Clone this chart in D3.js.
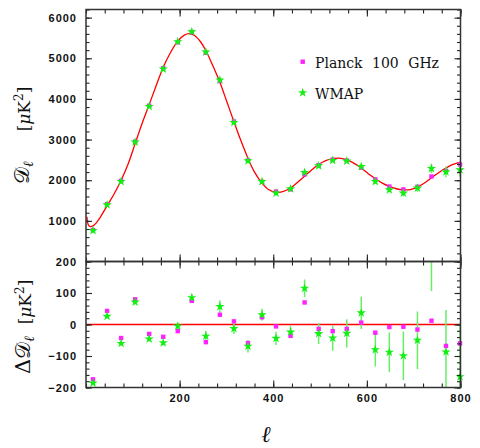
<!DOCTYPE html>
<html><head><meta charset="utf-8">
<script src="https://cdn.jsdelivr.net/npm/d3@7"></script>
<style>
body{margin:0;background:#fff;}
.tick text{font-family:"Liberation Sans",Arial,sans-serif;font-weight:bold;font-size:11px;letter-spacing:1px;fill:#111;}
</style></head>
<body><svg id="c" width="480" height="448"></svg>
<script>
// ---- data ----
const ell = [15,45,75,105,135,165,196,226,256,286,316,346,376,406,437,467,497,527,557,588,618,648,678,708,738,769,799];
const wmapD = [761,1394,1968,2938,3815,4736,5409,5655,5155,4466,3421,2478,1968,1682,1788,2190,2355,2485,2470,2337,1968,1764,1682,1805,2288,2207,2256];
const planckD = [773,1411,1985,2947,3831,4755,5393,5645,5136,4440,3444,2488,1960,1720,1776,2145,2370,2507,2484,2308,2020,1844,1774,1839,2091,2230,2387];
const wmapRes = [-186,26,-60,71,-46,-58,-5,85,-37,57,-13,-69,31,-44,-24,115,-29,-43,-28,37,-80,-88,-99,-50,220,-87,-166];
const wmapErr = [4,5,6,7,8,8,9,12,16,20,17,20,19,21,20,28,33,40,45,51,53,63,77,91,114,133,170];
const planckRes = [-174,43,-43,80,-30,-39,-21,75,-56,31,10,-59,23,-6,-36,70,-14,-21,-14,6,-26,-8,-7,-16,12,-68,-60];
const modelEll = [2,5,9,15,22,30,45,60,75,90,105,120,135,150,165,180,196,210,220,232,245,256,270,286,300,316,330,346,360,376,390,406,420,437,452,467,482,497,512,527,540,557,572,588,603,618,633,648,663,678,693,708,723,738,754,769,784,800];
const modelD = [1100,900,860,877,950,1080,1370,1660,2000,2400,2900,3400,3860,4330,4780,5130,5420,5570,5605,5560,5400,5190,4840,4410,3960,3440,3000,2540,2200,1930,1770,1700,1720,1810,1950,2100,2250,2385,2480,2530,2545,2500,2420,2300,2160,2040,1930,1850,1790,1765,1770,1830,1930,2060,2190,2300,2390,2445];
const xTicks = [200,400,600,800];
const topYTicks = [1000,2000,3000,4000,5000,6000];
const botYTicks = [-200,-100,0,100,200];
const legendLabels = ["Planck 100 GHz","WMAP"];

// ---- layout ----
const svg = d3.select("#c");
const L = 86, R = 460.5, T1 = 9.5, B1 = 261.5, B2 = 387.5;
const x = d3.scaleLinear().domain([0,800]).range([L,R]);
const y1 = d3.scaleLinear().domain([0,6200]).range([B1,T1]);
const y2 = d3.scaleLinear().domain([-200,200]).range([B2,B1]);
const magenta = "#ff22ff", green = "#11f011", errCol = "#66ee66";

const defs = svg.append("defs");
defs.append("clipPath").attr("id","cp1").append("rect").attr("x",L-10).attr("y",T1).attr("width",R-L+20).attr("height",B1-T1);
defs.append("clipPath").attr("id","cp2").append("rect").attr("x",L-10).attr("y",B1).attr("width",R-L+20).attr("height",B2-B1);

function axes(y, yMajor, yMinorStep, top, bottom, showX){
  const xMin = d3.range(0,801,40);
  const yMin = d3.range(y.domain()[0], y.domain()[1]+0.1, yMinorStep);
  const g = svg.append("g");
  g.append("g").attr("transform",`translate(0,${bottom})`).call(d3.axisBottom(x).tickValues(xMin).tickSize(-4).tickSizeOuter(0).tickFormat(""));
  g.append("g").attr("transform",`translate(0,${top})`).call(d3.axisTop(x).tickValues(xMin).tickSize(-4).tickSizeOuter(0).tickFormat(""));
  g.append("g").attr("transform",`translate(${L},0)`).call(d3.axisLeft(y).tickValues(yMin).tickSize(-3.5).tickSizeOuter(0).tickFormat(""));
  g.append("g").attr("transform",`translate(${R},0)`).call(d3.axisRight(y).tickValues(yMin).tickSize(-3.5).tickSizeOuter(0).tickFormat(""));
  const xb = d3.axisBottom(x).tickValues(xTicks).tickSize(-7).tickSizeOuter(0).tickPadding(7);
  if(!showX) xb.tickFormat("");
  g.append("g").attr("transform",`translate(0,${bottom})`).call(xb);
  g.append("g").attr("transform",`translate(0,${top})`).call(d3.axisTop(x).tickValues(xTicks).tickSize(-7).tickSizeOuter(0).tickFormat(""));
  g.append("g").attr("transform",`translate(${L},0)`).call(d3.axisLeft(y).tickValues(yMajor).tickSize(-6).tickSizeOuter(0).tickPadding(9).tickFormat(d=>d<0?"\u2212"+Math.abs(d):d));
  g.append("g").attr("transform",`translate(${R},0)`).call(d3.axisRight(y).tickValues(yMajor).tickSize(-6).tickSizeOuter(0).tickFormat(""));
  g.selectAll(".domain").remove();
  g.selectAll(".tick line").attr("stroke","#222").attr("stroke-width",1.1);
  g.append("rect").attr("x",L).attr("y",top).attr("width",R-L).attr("height",bottom-top)
    .attr("fill","none").attr("stroke","#333").attr("stroke-width",1.5);
}

// ---- top panel ----
const p1 = svg.append("g").attr("clip-path","url(#cp1)");
const line = d3.line().x((d,i)=>x(modelEll[i])).y(d=>y1(d)).curve(d3.curveCatmullRom.alpha(0.5));
p1.append("path").attr("d",line(modelD)).attr("fill","none").attr("stroke","#ff0000").attr("stroke-width",1.3);
p1.selectAll(".sq1").data(planckD).join("rect").attr("x",(d,i)=>x(ell[i])-2.2).attr("y",d=>y1(d)-2.2).attr("width",4.4).attr("height",4.4).attr("fill",magenta);
p1.selectAll(".eb1").data(wmapD).join("line").attr("x1",(d,i)=>x(ell[i])).attr("x2",(d,i)=>x(ell[i]))
  .attr("y1",(d,i)=>y1(d-wmapErr[i])).attr("y2",(d,i)=>y1(d+wmapErr[i])).attr("stroke",errCol).attr("stroke-width",1.5);
const star = d3.symbol().type(d3.symbolStar).size(27);
p1.selectAll(".st1").data(wmapD).join("path").attr("d",star).attr("transform",(d,i)=>`translate(${x(ell[i])},${y1(d)})`).attr("fill",green);

// ---- bottom panel ----
const p2 = svg.append("g").attr("clip-path","url(#cp2)");
p2.append("line").attr("x1",L).attr("x2",R).attr("y1",y2(0)).attr("y2",y2(0)).attr("stroke","#ff0000").attr("stroke-width",1.6);
p2.selectAll(".eb2").data(wmapRes).join("line").attr("x1",(d,i)=>x(ell[i])).attr("x2",(d,i)=>x(ell[i]))
  .attr("y1",(d,i)=>y2(d-wmapErr[i])).attr("y2",(d,i)=>y2(d+wmapErr[i])).attr("stroke",errCol).attr("stroke-width",1.5);
p2.selectAll(".sq2").data(planckRes).join("rect").attr("x",(d,i)=>x(ell[i])-2.2).attr("y",d=>y2(d)-2.2).attr("width",4.4).attr("height",4.4).attr("fill",magenta);
p2.selectAll(".st2").data(wmapRes).join("path").attr("d",star).attr("transform",(d,i)=>`translate(${x(ell[i])},${y2(d)})`).attr("fill",green);

axes(y1, topYTicks, 200, T1, B1, false);
axes(y2, botYTicks, 20, B1, B2, true);

// ---- legend ----
const lg = svg.append("g").attr("font-family","'DejaVu Serif',serif").attr("font-size","14px").attr("fill","#111");
lg.append("rect").attr("x",300.5).attr("y",59.5).attr("width",4.4).attr("height",4.4).attr("fill",magenta);
lg.append("text").attr("x",315).attr("y",67.5).attr("word-spacing","5px").text(legendLabels[0]);
lg.append("path").attr("d",star).attr("transform","translate(302.7,92.7)").attr("fill",green);
lg.append("text").attr("x",315).attr("y",98.5).text(legendLabels[1]);

// ---- axis titles ----
const tf = "'DejaVu Serif',serif";
function ylab(xb, yb, delta){
  const t = svg.append("text").attr("transform",`translate(${xb},${yb}) rotate(-90)`).attr("font-family",tf).attr("fill","#111").attr("font-size","21px");
  t.append("tspan").text((delta?"\u0394":"")+"\uD835\uDC9F");
  t.append("tspan").attr("font-size","14px").attr("dy",4).attr("font-style","italic").text("\u2113");
}
function unit(xb, yc){
  const t = svg.append("text").attr("transform",`translate(${xb},${yc}) rotate(-90)`).attr("font-family",tf).attr("fill","#111").attr("font-size","17px").attr("text-anchor","middle");
  t.append("tspan").text("[");
  t.append("tspan").attr("font-style","italic").text("\u03BC");
  t.append("tspan").text("K");
  t.append("tspan").attr("font-size","12px").attr("dy",-7).text("2");
  t.append("tspan").attr("dy",7).text("]");
}
ylab(29, 184, false);
unit(30, 109);
ylab(30, 374, true);
unit(31, 302);
svg.append("text").attr("x",266).attr("y",442).attr("text-anchor","middle").attr("font-family",tf).attr("font-style","italic").attr("font-size","23px").attr("fill","#111").text("\u2113");
</script></body></html>
